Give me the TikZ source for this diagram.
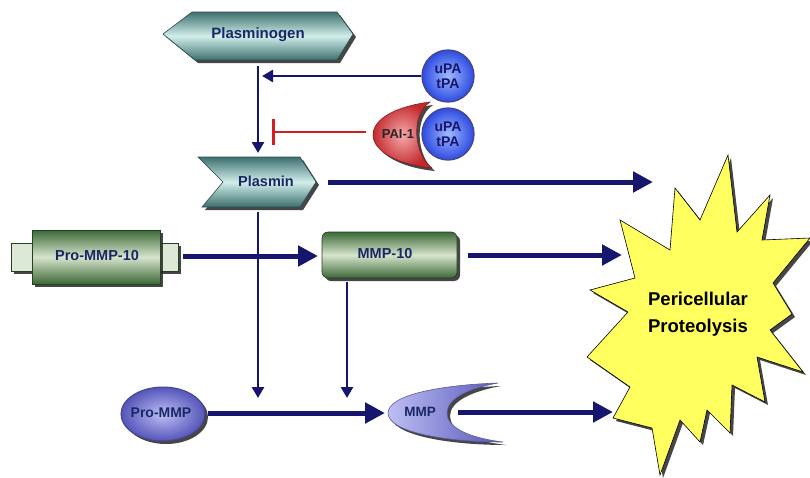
\documentclass[tikz,border=0pt]{standalone}
\usepackage{fontspec}
\setmainfont{Liberation Sans}
\usetikzlibrary{arrows.meta,shadows}
\definecolor{navy}{RGB}{22,22,110}
\definecolor{txtnavy}{RGB}{25,40,100}
\definecolor{tealD}{RGB}{60,112,110}
\definecolor{tealL}{RGB}{210,238,235}
\definecolor{grnD}{RGB}{60,105,55}
\definecolor{grnL}{RGB}{215,228,205}
\definecolor{knobc}{RGB}{222,232,215}
\definecolor{blueO}{RGB}{45,75,225}
\definecolor{blueI}{RGB}{160,185,255}
\definecolor{redO}{RGB}{195,40,45}
\definecolor{redI}{RGB}{245,170,170}
\definecolor{purO}{RGB}{85,85,185}
\definecolor{purI}{RGB}{190,190,245}
\definecolor{starY}{RGB}{255,255,95}
\definecolor{inhred}{RGB}{210,30,30}
\begin{document}
\begin{tikzpicture}[x=1pt,y=-1pt,
 shad/.style={drop shadow={shadow xshift=3pt,shadow yshift=-3pt,opacity=0.85,fill=black!85}},
 lbl/.style={font=\bfseries\fontsize{14}{16}\selectfont, text=txtnavy, inner sep=0pt, align=center},
 tealshade/.style={top color=tealD, bottom color=tealD, middle color=tealL, draw=tealD!70!black, line width=0.6pt},
 grnshade/.style={top color=grnD, bottom color=grnD, middle color=grnL, draw=grnD!60!black, line width=0.6pt},
 bigarrow/.style={navy, line width=5pt, -{Triangle[length=20pt,width=20pt]}},
 thinarrow/.style={navy, line width=2.6pt, -{Triangle[length=11pt,width=12pt]}},
]
\useasboundingbox (0,0) rectangle (810,477);

% ---------- Plasminogen ----------
\path[tealshade, shad] (163,34) -- (192,12) -- (337,12) -- (353,34) -- (337,60) -- (195,60) -- cycle;
\node[lbl, font=\bfseries\fontsize{15}{17}\selectfont] (plg) at (258,35) {Plasminogen};

% ---------- Plasmin ----------
\path[tealshade, shad] (198,157) -- (300,157) -- (316,182) -- (300,207) -- (202,207) -- (223,182) -- cycle;
\node[lbl, font=\bfseries\fontsize{14.5}{17}\selectfont] (pls) at (266,181) {Plasmin};

% ---------- uPA/tPA 1 ----------
\shade[inner color=blueI, outer color=blueO] (448,76) circle (26);
\draw[navy!80, line width=1.3pt] (448,76) circle (26);
\node[lbl, font=\bfseries\fontsize{14}{15}\selectfont, text=navy] (upa1) at (448,76) {uPA\\tPA};

% ---------- PAI-1 + uPA/tPA 2 ----------
\path[shade, inner color=redI, outer color=redO, draw=redO!70!black, line width=0.6pt, shad]
  (430,102) .. controls (398,106) and (373,118) .. (373,135)
  .. controls (373,152) and (400,165) .. (432,168)
  .. controls (414,155) and (410,115) .. (430,102) -- cycle;
\node[lbl, font=\bfseries\fontsize{13}{15}\selectfont, text=black!85] (pai) at (398,134) {PAI-1};
\shade[inner color=blueI, outer color=blueO] (448,134) circle (26);
\draw[navy!80, line width=1.3pt] (448,134) circle (26);
\node[lbl, font=\bfseries\fontsize{14}{15}\selectfont, text=navy] (upa2) at (448,134) {uPA\\tPA};

% ---------- Pro-MMP-10 ----------
\path[fill=knobc, draw=grnD!60!black, line width=0.6pt, shad] (11,243) rectangle (34,271);
\path[fill=knobc, draw=grnD!60!black, line width=0.6pt, shad] (158,243) rectangle (178,271);
\path[grnshade, shad] (32,230) rectangle (160,284);
\node[lbl, font=\bfseries\fontsize{14.5}{17}\selectfont] (pro10) at (97,256) {Pro-MMP-10};

% ---------- MMP-10 ----------
\path[grnshade, shad, rounded corners=6pt] (322,232) rectangle (457,278);
\node[lbl, font=\bfseries\fontsize{14.5}{17}\selectfont] (mmp10) at (385,254) {MMP-10};

% ---------- Pro-MMP ----------
\path[shade, inner color=purI, outer color=purO, draw=navy!80, line width=1pt, shad] (163,414) ellipse (42 and 27);
\node[lbl, font=\bfseries\fontsize{14}{16}\selectfont] (prommp) at (161,413) {Pro-MMP};

% ---------- MMP ----------
\path[shade, left color=purI, right color=purO, draw=navy!70, line width=0.6pt, shad]
  (498,383) .. controls (440,385) and (388,395) .. (388,413)
  .. controls (388,432) and (445,442) .. (503,442)
  .. controls (470,438) and (447,428) .. (447,413)
  .. controls (447,398) and (470,388) .. (498,383) -- cycle;
\node[lbl, font=\bfseries\fontsize{13.5}{16}\selectfont] (mmp) at (420,412) {MMP};

% ---------- Starburst ----------
\path[fill=starY, draw=black, line width=0.6pt, shad]
  (728,155) -- (737,232) -- (770,195) -- (762,240) -- (810,238) -- (773,283)
  -- (792,314) -- (770,330) -- (803,372) -- (757,357) -- (765,402) -- (732,385)
  -- (730,433) -- (707,410) -- (700,442) -- (680,420) -- (660,475) -- (652,428)
  -- (613,418) -- (630,387) -- (587,357) -- (628,312) -- (590,290) -- (635,278)
  -- (620,220) -- (670,250) -- (675,188) -- (700,220) -- cycle;
\node[font=\bfseries\fontsize{18.5}{27}\selectfont, text=black, align=center, inner sep=0pt] (star) at (698,314) {Pericellular\\Proteolysis};

% ---------- Connectors ----------
\coordinate (plgbot) at (258,66);
\coordinate (plstop) at (258,153);
\coordinate (upatip) at (262,76);
\coordinate (upaL) at (421,76);
\coordinate (paiL) at (366,132);
\coordinate (inhT) at (272,132);
\coordinate (plsR) at (328,182);
\coordinate (starA) at (653,182);
\coordinate (plsbot) at (258,212);
\coordinate (joinA) at (258,398);
\coordinate (pro10R) at (183,256);
\coordinate (mmp10L) at (318,256);
\coordinate (mmp10R) at (468,255);
\coordinate (starB) at (622,255);
\coordinate (mmp10bot) at (347,282);
\coordinate (joinB) at (347,398);
\coordinate (prommpR) at (208,413);
\coordinate (mmpL) at (385,413);
\coordinate (mmpR) at (458,412);
\coordinate (starC) at (613,412);

\draw[thinarrow] (plgbot) -- (plstop);
\draw[thinarrow] (upaL) -- (upatip);
\draw[inhred, line width=2.5pt, -{Bar[width=26pt]}] (paiL) -- (inhT);
\draw[bigarrow] (plsR) -- (starA);
\draw[bigarrow] (pro10R) -- (mmp10L);
\draw[bigarrow] (mmp10R) -- (starB);
\draw[bigarrow] (prommpR) -- (mmpL);
\draw[bigarrow] (mmpR) -- (starC);
\draw[thinarrow] (plsbot) -- (joinA);
\draw[thinarrow] (mmp10bot) -- (joinB);
\end{tikzpicture}
\end{document}
